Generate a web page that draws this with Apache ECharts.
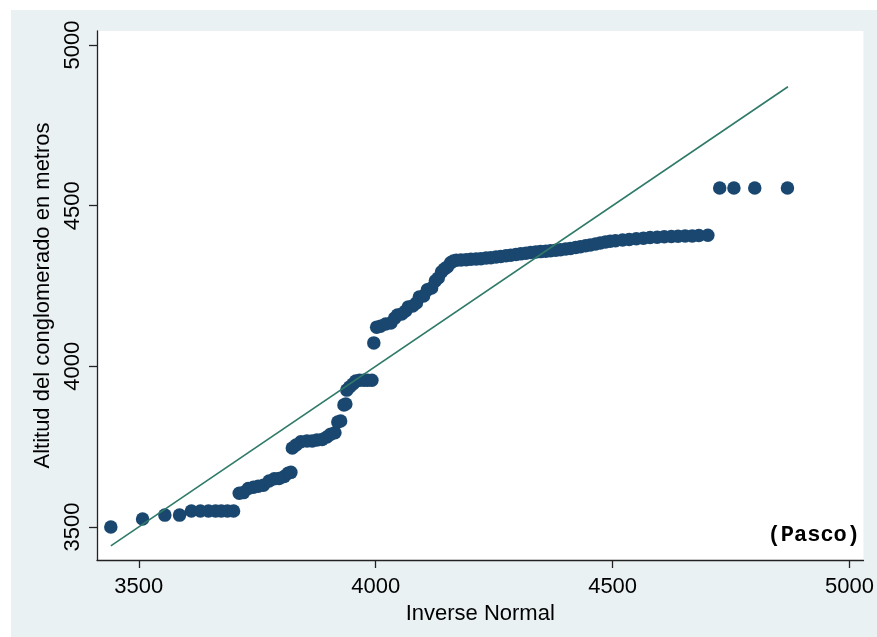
<!DOCTYPE html>
<html>
<head>
<meta charset="utf-8">
<script src="https://cdn.jsdelivr.net/npm/echarts@6/dist/echarts.min.js"></script>
<style>html,body{margin:0;padding:0;background:#fff}#c{width:877px;height:637px}</style>
</head>
<body>
<div id="c"></div>
<script>
var qX = [3441,3508,3555,3586,3611,3630,3647,3662,3674,3687,3700,
  3712,3721,3731,3742,3752,3763,3775,3786,3796,3807,3815,3821,
  3824,3832,3842,3855,3866,3876,3887,3897,3905,3914,3920,3926,3933,3937,
  3939,3945,3952,3958,3966,3975,3983,3992,
  3996,
  4002,4010,4021,4032,4040,4046,4055,4063,4069,4078,4086,4092,4101,4109,4118,4126,4132,4139,4145,4151,4158,4164,
  4170,4180,4191,4201,4212,4222,4233,4243,4254,4264,4275,4285,4296,4306,4317,4327,4338,4348,4359,4369,
  4380,4390,4401,4411,4422,4432,4443,4453,4464,4474,4485,4495,4506,4521,4535,4550,4565,4579,4594,4609,
  4624,4638,4653,4668,4682,4701,
  4726,4756,4800,4869];
var qY = [3500,3525,3537,3537,3550,3550,3550,3550,3550,3550,3550,
  3605,3607,3620,3624,3627,3630,3643,3650,3651,3657,3667,3670,
  3746,3755,3765,3768,3768,3771,3772,3780,3789,3793,3827,3830,3880,3883,
  3926,3936,3945,3954,3957,3957,3957,3957,
  4073,
  4122,4125,4132,4135,4150,4160,4163,4172,4185,4188,4197,4216,4219,4238,4244,4266,4275,4294,4303,4309,4322,4328,
  4330,4331,4332,4333,4334,4335,4337,4338,4340,4342,4344,4346,4348,4350,4352,4354,4356,4357,4358,4360,
  4361,4363,4365,4367,4370,4372,4375,4378,4381,4384,4387,4389,4391,4393,4395,4397,4399,4401,4402,4403,
  4404,4405,4406,4406,4407,4408,
  4555,4555,4555,4555];
// Reference line y = x
var refX = [3441, 4870];
var refY = [3441, 4870];
var xTicks = [3500, 4000, 4500, 5000];
var yTicks = [3500, 4000, 4500, 5000];
var xTitle = 'Inverse Normal';
var yTitle = 'Altitud del conglomerado en metros';
var note = '(Pasco)';

var pts = qX.map(function (x, i) { return [x, qY[i]]; });
var ref = refX.map(function (x, i) { return [x, refY[i]]; });
var font = "'Liberation Sans', Arial, Helvetica, sans-serif";
function plain(v) { return String(v); }

var chart = echarts.init(document.getElementById('c'), null, {renderer: 'canvas'});
chart.setOption({
  animation: false,
  backgroundColor: '#eaf1f3',
  graphic: [
    {type: 'rect', left: 0, top: 0, shape: {width: 877, height: 10}, style: {fill: '#fff'}},
    {type: 'rect', left: 0, top: 0, shape: {width: 11, height: 637}, style: {fill: '#fff'}},
    {type: 'text', right: 17, top: 524, z: 10, style: {text: note, font: "bold 22px 'Liberation Mono', 'Courier New', monospace", fill: '#000'}}
  ],
  grid: {left: 97, right: 10, top: 31, bottom: 77, show: true, backgroundColor: '#fff', borderWidth: 0},
  xAxis: {
    type: 'value', min: 3411.8, max: 5029.4,
    name: xTitle, nameLocation: 'middle', nameGap: 37,
    nameTextStyle: {fontFamily: font, fontSize: 22, color: '#000'},
    axisLine: {show: true, lineStyle: {color: '#222', width: 1.3}},
    axisTick: {show: true, length: 8, customValues: xTicks, lineStyle: {color: '#222', width: 1.3}},
    axisLabel: {customValues: xTicks, formatter: plain, fontFamily: font, fontSize: 22, color: '#000', margin: 16},
    splitLine: {show: false}
  },
  yAxis: {
    type: 'value', min: 3397.3, max: 5043.6,
    name: yTitle, nameLocation: 'middle', nameGap: 30,
    nameTextStyle: {fontFamily: font, fontSize: 22, color: '#000'},
    axisLine: {show: true, lineStyle: {color: '#222', width: 1.3}},
    axisTick: {show: true, length: 8, customValues: yTicks, lineStyle: {color: '#222', width: 1.3}},
    axisLabel: {customValues: yTicks, formatter: plain, rotate: 90, fontFamily: font, fontSize: 22, color: '#000', margin: 13},
    splitLine: {show: false}
  },
  series: [
    {type: 'scatter', data: pts, symbol: 'circle', symbolSize: 13.5,
     itemStyle: {color: '#1a476f', opacity: 1}, z: 2},
    {type: 'line', data: ref, symbol: 'none', z: 3,
     lineStyle: {color: '#2f7a68', width: 1.6}}
  ]
});
</script>
</body>
</html>
